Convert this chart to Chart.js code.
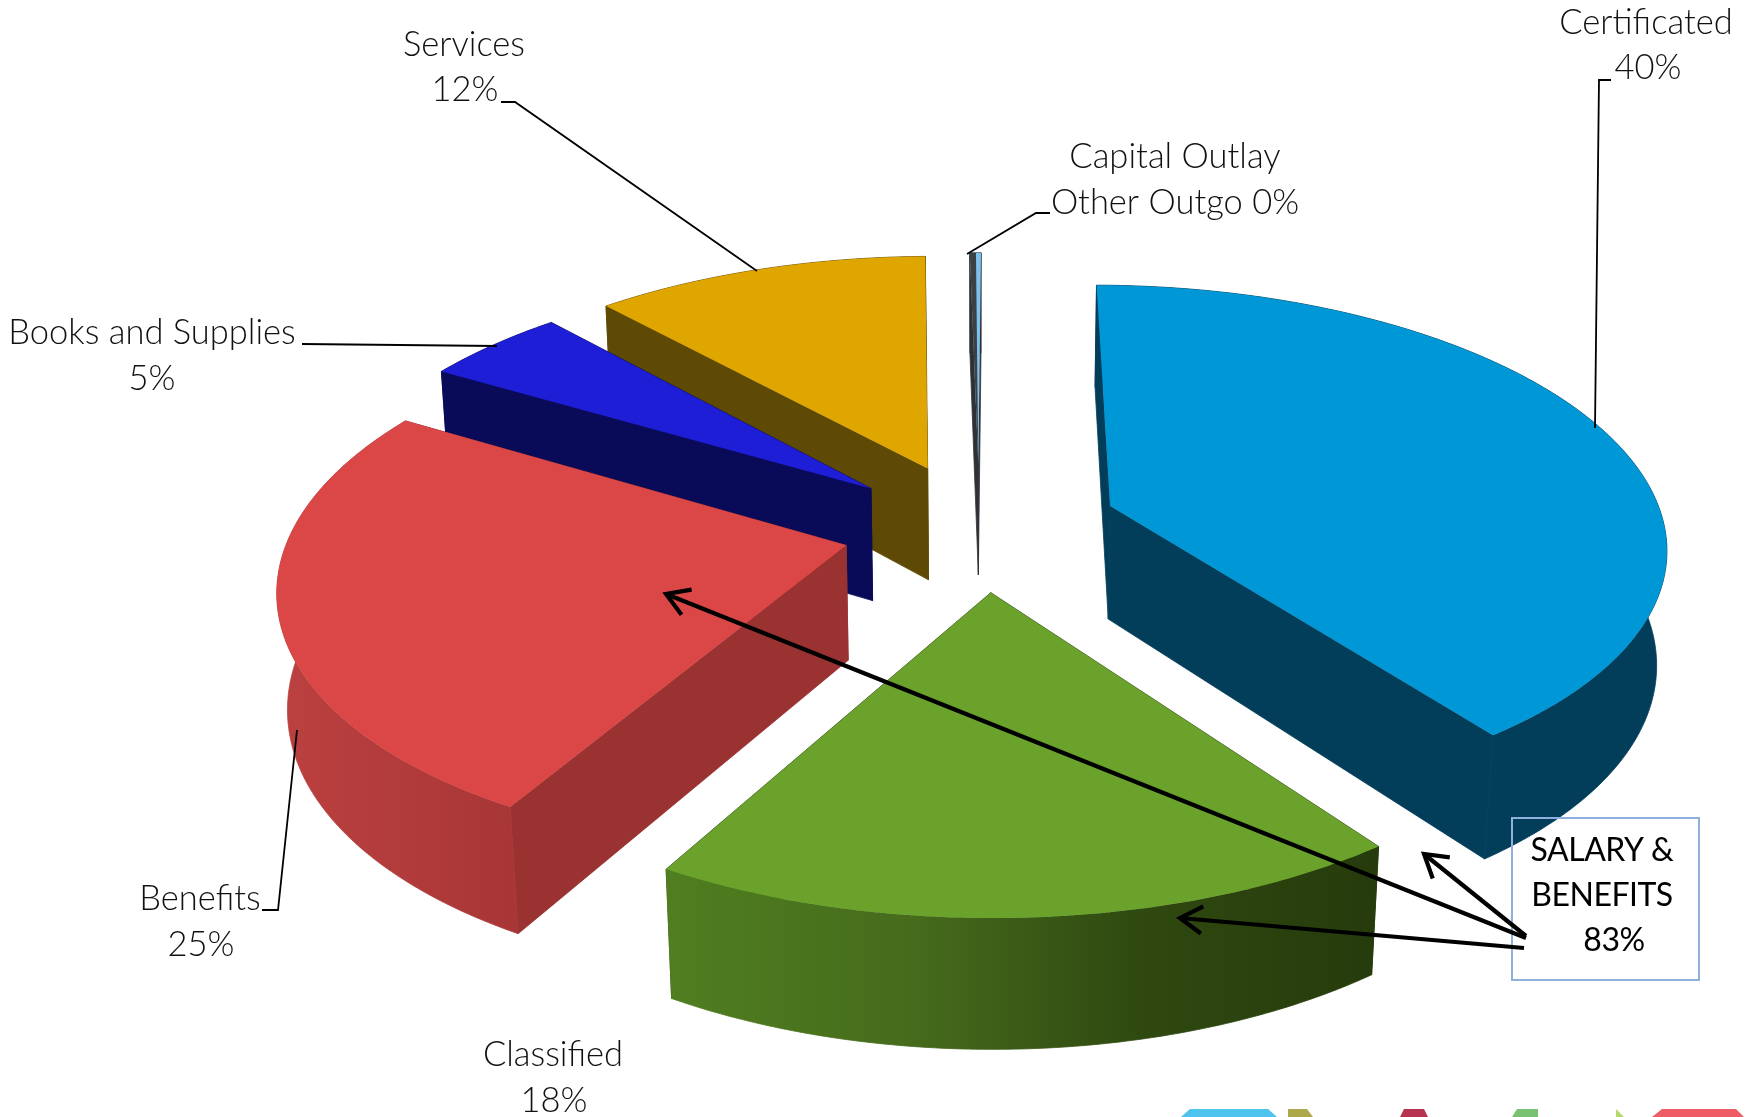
<!DOCTYPE html>
<html>
<head>
<meta charset="utf-8">
<title>Expenditures by category</title>
<script src="https://cdn.jsdelivr.net/npm/chart.js@4/dist/chart.umd.js"></script>
<style>
  html, body { margin: 0; padding: 0; background: #fff; }
  #stage { width: 1756px; height: 1117px; }
</style>
</head>
<body>
<div id="stage"><canvas id="chart" width="1756" height="1117"></canvas></div>
<script>
// Budget shares, clockwise from twelve o'clock
const categories = ['Certificated', 'Classified', 'Benefits', 'Books and Supplies', 'Services', 'Capital Outlay Other Outgo'];
const shares = [40, 18, 25, 5, 12, 0.4];
const shareLabels = ['40%', '18%', '25%', '5%', '12%', '0%'];
const topColors = ['#0097D7', '#6AA22B', '#DB4747', '#1E1ED6', '#E0A600', '#7FC1EE'];
const cutColors = ['#023D59', '#2F4611', '#9B3232', '#090A58', '#5F4A05', '#2E3236'];
const rimColors = [
  ['#023D59', '#023D59'],
  ['#507E20', '#466C1C', '#2F4910', '#263B0C'],
  ['#BC4040', '#A83636'],
  ['#090A58', '#090A58'],
  ['#5F4A05', '#5F4A05'],
  ['#2E3236', '#2E3236']
];
// Darker leading half on the thinnest wedge's top face
const topShades = [null, null, null, null, null, '#3C4146'];
const calloutLines = ['SALARY &', 'BENEFITS', '83%'];

// Camera model for the tilted, extruded pie, relative to the pie radius
const EXPLODE = 0.25, WIDTH = 1.054, DEPTH = 0.49, THICK = 0.22, PERSPECTIVE = 0.143, DROP = 0.015;
const VIEW_TURN = 0.3 * Math.PI / 180, VIEW_LEAN = 2.9 * Math.PI / 180;

// Rim angle as seen from the camera, which sits slightly off to one side
const viewAngle = a => a + VIEW_TURN + VIEW_LEAN * Math.max(0, -Math.sin(a));

function project(el, x, y, z) {
  const R = el.outerRadius;
  const w = 1 - PERSPECTIVE * y + DROP * z;
  return [el.x + R * WIDTH * x / w, el.y + R * (DEPTH * y + THICK * z) / w];
}

class Wedge3D extends Chart.ArcElement {
  draw(ctx) {
    const i = this.$context.dataIndex;
    const a0 = this.startAngle + Math.PI / 2, a1 = this.endAngle + Math.PI / 2;
    const mid = (a0 + a1) / 2;
    const ox = EXPLODE * Math.sin(mid), oy = -EXPLODE * Math.cos(mid);
    const rimAt = (a, z) => {
      const v = viewAngle(a);
      return project(this, ox + Math.sin(v), oy - Math.cos(v), z);
    };
    const apexAt = z => project(this, ox, oy, z);
    const steps = Math.max(2, Math.ceil((a1 - a0) / 0.01));
    const fan = [];
    for (let s = 0; s <= steps; s++) fan.push(a0 + (a1 - a0) * s / steps);

    const tracePath = pts => {
      ctx.beginPath();
      pts.forEach((p, n) => n ? ctx.lineTo(p[0], p[1]) : ctx.moveTo(p[0], p[1]));
      ctx.closePath();
    };
    const fillFace = (pts, fill) => {
      tracePath(pts);
      ctx.fillStyle = fill;
      ctx.fill();
    };
    // Walls get a hairline of their own colour so neighbouring faces close up
    const fillWall = (pts, fill) => {
      fillFace(pts, fill);
      ctx.strokeStyle = fill;
      ctx.lineWidth = 0.8;
      ctx.stroke();
    };

    // Cut faces
    fillWall([apexAt(0), rimAt(a0, 0), rimAt(a0, 1), apexAt(1)], cutColors[i]);
    fillWall([apexAt(0), rimAt(a1, 0), rimAt(a1, 1), apexAt(1)], cutColors[i]);

    // Curved outer wall, shaded left to right
    const upper = fan.map(a => rimAt(a, 0));
    const lower = fan.map(a => rimAt(a, 1));
    const xs = upper.concat(lower).map(p => p[0]);
    const grad = ctx.createLinearGradient(Math.min(...xs), 0, Math.max(...xs), 0);
    const stops = rimColors[i];
    stops.forEach((c, n) => grad.addColorStop(n / (stops.length - 1), c));
    fillWall(upper.concat(lower.slice().reverse()), grad);

    // Top face
    fillFace([apexAt(0)].concat(upper), this.options.backgroundColor);
    if (topShades[i]) {
      const middle = rimAt(a0 + (a1 - a0) * 0.55, 0);
      fillFace([apexAt(0), rimAt(a0, 0), middle], topShades[i]);
    }
  }
}
Wedge3D.id = 'wedge3d';
Wedge3D.defaults = Chart.ArcElement.defaults;
Wedge3D.defaultRoutes = Chart.ArcElement.defaultRoutes;

// Paints wedges from the last to the first, which runs back to front here
class Pie3DController extends Chart.PieController {
  draw() {
    const ctx = this.chart.ctx;
    const els = this._cachedMeta.data;
    for (let i = els.length - 1; i >= 0; i--) els[i].draw(ctx);
  }
}
Pie3DController.id = 'pie3d';
Pie3DController.defaults = Object.assign({}, Chart.PieController.defaults, { dataElementType: 'wedge3d' });
Pie3DController.overrides = Chart.PieController.overrides;

Chart.register(Chart.ArcElement, Chart.PieController, Wedge3D, Pie3DController);

const FONT = '300 34.5px Lato, "Open Sans", sans-serif';

function polyline(ctx, pts, width) {
  ctx.beginPath();
  pts.forEach((p, n) => n ? ctx.lineTo(p[0], p[1]) : ctx.moveTo(p[0], p[1]));
  ctx.lineWidth = width;
  ctx.strokeStyle = '#000';
  ctx.stroke();
}

function arrow(ctx, from, to) {
  polyline(ctx, [from, to], 4.2);
  const t = Math.atan2(from[1] - to[1], from[0] - to[0]);
  const barb = d => [to[0] + 26 * Math.cos(t + d), to[1] + 26 * Math.sin(t + d)];
  polyline(ctx, [barb(0.55), to, barb(-0.55)], 4.2);
}

const annotations = {
  id: 'annotations',
  afterDraw(chart) {
    const ctx = chart.ctx;
    ctx.save();

    // Leader lines
    polyline(ctx, [[1611, 80], [1599, 80], [1595, 428]], 1.8);
    polyline(ctx, [[501, 102], [515, 102], [757, 271]], 1.8);
    polyline(ctx, [[1050, 213], [1036, 213], [967, 254]], 1.8);
    polyline(ctx, [[302, 344], [497, 346]], 1.8);
    polyline(ctx, [[262, 910], [278, 910], [297, 730]], 1.8);

    // Category labels
    ctx.font = FONT;
    ctx.fillStyle = '#111';
    ctx.textAlign = 'center';
    ctx.textBaseline = 'middle';
    const put = (text, x, y) => ctx.fillText(text, x, y);
    put(categories[0], 1646, 23);  put(shareLabels[0], 1648, 68);
    put(categories[1], 553, 1055); put(shareLabels[1], 554, 1101);
    put(categories[2], 200, 899);  put(shareLabels[2], 201, 945);
    put('Books and Supplies', 152, 333); put(shareLabels[3], 152, 379);
    put(categories[4], 464, 45);   put(shareLabels[4], 465, 90);
    put('Capital Outlay', 1175, 157);
    put('Other Outgo ' + shareLabels[5], 1175, 203);

    // Callout box
    ctx.strokeStyle = '#8FB0DE';
    ctx.lineWidth = 2;
    ctx.strokeRect(1512, 818, 187, 162);
    ctx.font = '400 32px Lato, "Open Sans", sans-serif';
    ctx.letterSpacing = '-0.5px';
    ctx.fillStyle = '#000';
    put(calloutLines[0], 1602, 851);
    put(calloutLines[1], 1602, 896);
    put(calloutLines[2], 1614, 941);
    ctx.letterSpacing = '0px';

    arrow(ctx, [1526, 938], [666, 594]);
    arrow(ctx, [1524, 948], [1180, 918]);
    arrow(ctx, [1526, 936], [1424, 854]);

    // Top edge of the banner along the bottom of the page
    const banner = [
      ['#4DC3EE', [1181, 1117], [1190, 1109], [1268, 1109], [1277, 1117]],
      ['#ADA84A', [1288, 1117], [1288, 1109], [1307, 1109], [1313, 1117]],
      ['#B8334F', [1400, 1117], [1404, 1109], [1424, 1109], [1428, 1117]],
      ['#78C272', [1512, 1117], [1517, 1109], [1538, 1109], [1538, 1117]],
      ['#B5D96A', [1616, 1117], [1616, 1109], [1624, 1117]],
      ['#EE5C66', [1652, 1117], [1662, 1109], [1736, 1109], [1744, 1117]]
    ];
    banner.forEach(([color, ...pts]) => {
      ctx.beginPath();
      pts.forEach((p, n) => n ? ctx.lineTo(p[0], p[1]) : ctx.moveTo(p[0], p[1]));
      ctx.closePath();
      ctx.fillStyle = color;
      ctx.fill();
    });
    ctx.restore();
  }
};

new Chart(document.getElementById('chart'), {
  type: 'pie3d',
  data: {
    labels: categories,
    datasets: [{ data: shares, backgroundColor: topColors, borderWidth: 0 }]
  },
  options: {
    responsive: false,
    animation: false,
    events: [],
    layout: { padding: { left: 204, right: 0, top: 0, bottom: 65 } },
    plugins: { legend: { display: false }, tooltip: { enabled: false } }
  },
  plugins: [annotations]
});
</script>
</body>
</html>
